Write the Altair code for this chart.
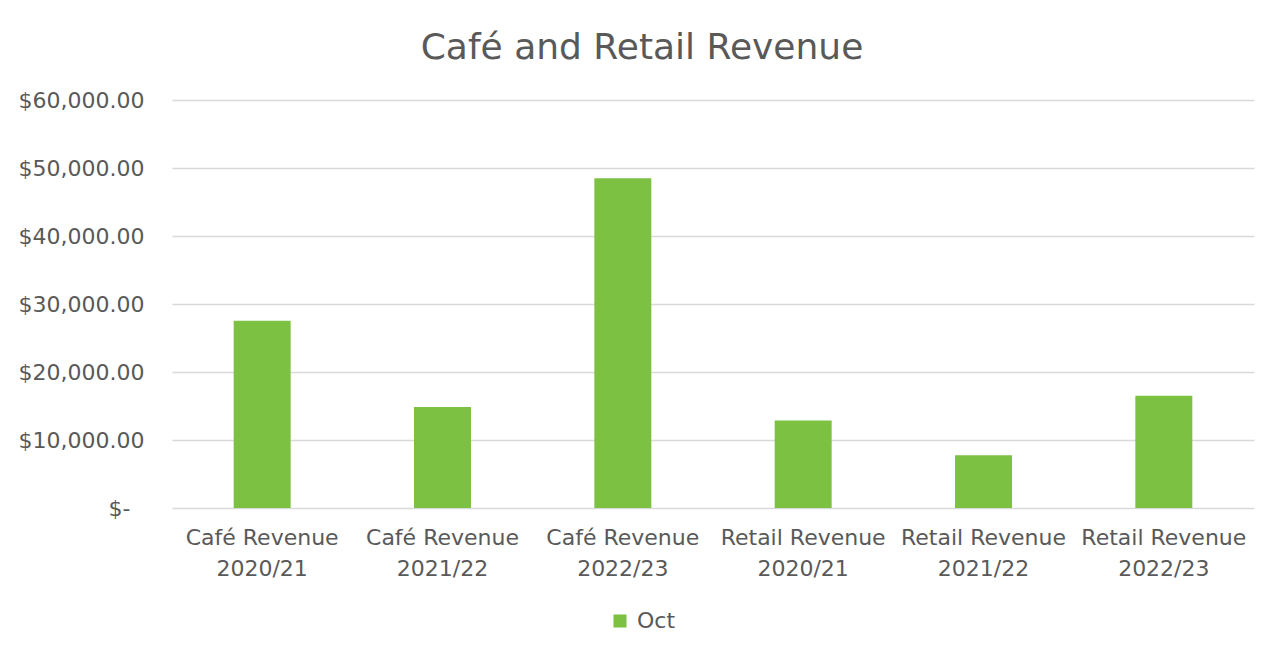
import altair as alt
import pandas as pd

categories = [
    "Café Revenue\n2020/21",
    "Café Revenue\n2021/22",
    "Café Revenue\n2022/23",
    "Retail Revenue\n2020/21",
    "Retail Revenue\n2021/22",
    "Retail Revenue\n2022/23",
]
oct_values = [27550, 14850, 48480, 12850, 7750, 16500]
series_name = "Oct"
y_ticks = [0, 10000, 20000, 30000, 40000, 50000, 60000]

df = pd.DataFrame({"category": categories, "value": oct_values, "series": [series_name] * len(categories)})

FONT = "DejaVu Sans"
TXT = "#595959"

chart = (
    alt.Chart(df)
    .mark_bar(color="#7CC142")
    .encode(
        x=alt.X(
            "category:N",
            sort=categories,
            scale=alt.Scale(paddingInner=0.684, paddingOuter=0.342),
            axis=alt.Axis(
                title=None,
                labelAngle=0,
                labelExpr="split(datum.label, '\\n')",
                labelFont=FONT,
                labelFontSize=22,
                labelColor=TXT,
                labelLineHeight=31,
                labelPadding=19,
                domain=False,
                ticks=False,
                grid=False,
            ),
        ),
        y=alt.Y(
            "value:Q",
            scale=alt.Scale(domain=[0, 60000], nice=False),
            axis=alt.Axis(
                title=None,
                values=y_ticks,
                labelExpr="datum.value == 0 ? '$-' : '$' + format(datum.value, ',.2f')",
                labelFont=FONT,
                labelFontSize=22,
                labelColor=TXT,
                labelPadding={"condition": {"test": "datum.value === 0", "value": 42}, "value": 28},
                domain=False,
                ticks=False,
                grid=True,
                gridColor="#D9D9D9",
                gridWidth=1.3,
            ),
        ),
        color=alt.Color(
            "series:N",
            scale=alt.Scale(domain=[series_name], range=["#7CC142"]),
            legend=alt.Legend(
                title=None,
                orient="none",
                legendX=437,
                legendY=510,
                symbolType="square",
                symbolSize=170,
                symbolStrokeWidth=0,
                labelFont=FONT,
                labelFontSize=22,
                labelColor=TXT,
                labelOffset=6,
            ),
        ),
    )
    .properties(
        width=1082,
        height=408,
        background="white",
        title=alt.TitleParams(
            "Café and Retail Revenue",
            font=FONT,
            fontSize=36,
            fontWeight="normal",
            color=TXT,
            anchor="middle",
            baseline="alphabetic",
            offset=40,
            dx=-71,
            dy=46,
        ),
        autosize=alt.AutoSizeParams(type="none"),
        padding={"left": 164, "top": 92, "right": 20, "bottom": 130},
    )
    .configure_view(strokeWidth=0, stroke="transparent")
)

chart.save("out.html", embed_options={"renderer": "svg", "actions": False})
